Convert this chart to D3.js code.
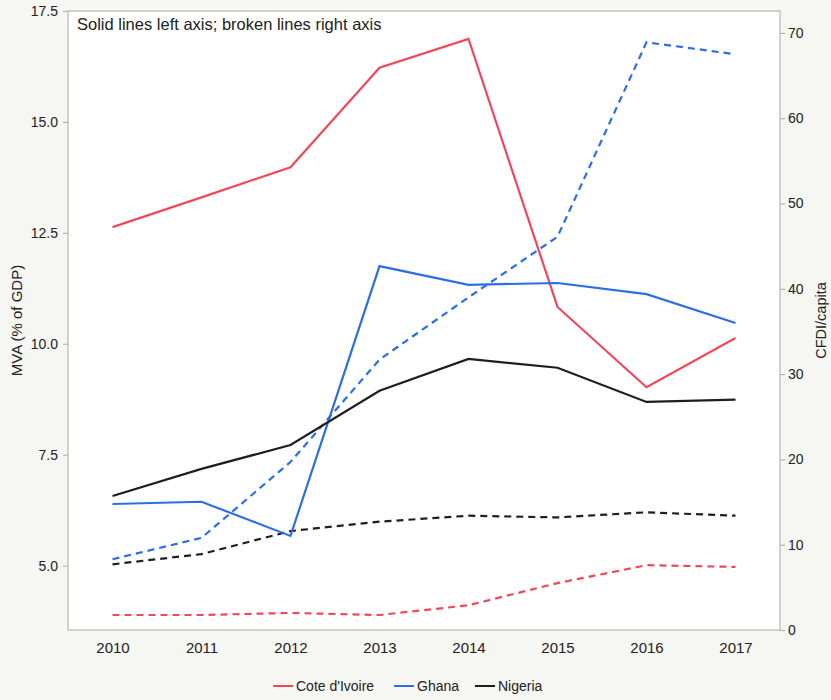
<!DOCTYPE html>
<html>
<head>
<meta charset="utf-8">
<script src="https://cdn.jsdelivr.net/npm/d3@7"></script>
<style>
  html, body { margin: 0; padding: 0; background: #f6f6f2; }
  svg { display: block; font-family: "Liberation Sans", Arial, Helvetica, sans-serif; }
</style>
</head>
<body>
<svg id="chart" width="831" height="700"></svg>
<script>
// Manufacturing value added (left axis) and FDI per capita (right axis)
const years = [2010, 2011, 2012, 2013, 2014, 2015, 2016, 2017];
const countries = ["Cote d'Ivoire", "Ghana", "Nigeria"];
const colors = ["#f0485a", "#2b6fe2", "#1e1e1e"];

// MVA (% of GDP) — solid lines, left axis
const mvaCoteDIvoire = [12.63, 13.3, 13.98, 16.22, 16.87, 10.83, 9.02, 10.13];
const mvaGhana       = [6.39, 6.44, 5.67, 11.75, 11.33, 11.37, 11.12, 10.47];
const mvaNigeria     = [6.57, 7.18, 7.72, 8.94, 9.66, 9.46, 8.69, 8.74];

// CFDI/capita — broken lines, right axis
const fdiCoteDIvoire = [1.76, 1.76, 2.0, 1.76, 2.9, 5.5, 7.6, 7.4];
const fdiGhana       = [8.3, 10.8, 19.7, 31.7, 39.0, 46.1, 68.9, 67.5];
const fdiNigeria     = [7.7, 8.9, 11.6, 12.7, 13.4, 13.2, 13.8, 13.4];

const leftTicks = [5.0, 7.5, 10.0, 12.5, 15.0, 17.5];
const rightTicks = [0, 10, 20, 30, 40, 50, 60, 70];

const mva = [mvaCoteDIvoire, mvaGhana, mvaNigeria];
const fdi = [fdiCoteDIvoire, fdiGhana, fdiNigeria];

const svg = d3.select("#chart");
const plot = { left: 68, right: 780, top: 11, bottom: 630 };

const x = d3.scaleLinear().domain([2009.5, 2017.5]).range([plot.left, plot.right]);
const yL = d3.scaleLinear().domain([3.55, 17.5]).range([plot.bottom, plot.top]);
const yR = d3.scaleLinear().domain([0, 72.57]).range([plot.bottom, plot.top]);

// plot panel
svg.append("rect")
  .attr("x", plot.left).attr("y", plot.top)
  .attr("width", plot.right - plot.left).attr("height", plot.bottom - plot.top)
  .attr("fill", "#ffffff")
  .attr("stroke", "#c2c2c2").attr("stroke-width", 1.5);

// axes
function styleAxis(size) {
  return g => {
    g.select(".domain").remove();
    g.selectAll(".tick line").attr("stroke", "#b4b4b4").attr("stroke-width", 1.2);
    g.selectAll(".tick text").attr("fill", "#222").style("font-size", size + "px")
      .style("font-family", "'Liberation Sans', Arial, sans-serif");
  };
}

svg.append("g")
  .attr("transform", `translate(${plot.left},0)`)
  .call(d3.axisLeft(yL).tickValues(leftTicks).tickFormat(d3.format(".1f")).tickSize(5).tickPadding(5))
  .call(styleAxis(14));

svg.append("g")
  .attr("transform", `translate(${plot.right},0)`)
  .call(d3.axisRight(yR).tickValues(rightTicks).tickFormat(d3.format("d")).tickSize(5).tickPadding(3))
  .call(styleAxis(14));

svg.append("g")
  .attr("transform", `translate(0,${plot.bottom})`)
  .call(d3.axisBottom(x).tickValues(years).tickFormat(d3.format("d")).tickSize(0).tickPadding(12))
  .call(styleAxis(15));

// axis titles
svg.append("text")
  .attr("transform", `translate(22,${(plot.top + plot.bottom) / 2}) rotate(-90)`)
  .attr("text-anchor", "middle")
  .attr("fill", "#222").style("font-size", "15px")
  .text("MVA (% of GDP)");

svg.append("text")
  .attr("transform", `translate(826,${(plot.top + plot.bottom) / 2}) rotate(-90)`)
  .attr("text-anchor", "middle")
  .attr("fill", "#222").style("font-size", "14.5px")
  .text("CFDI/capita");

// note inside the panel
svg.append("text")
  .attr("x", 77).attr("y", 30)
  .attr("fill", "#222").style("font-size", "16.5px")
  .text("Solid lines left axis; broken lines right axis");

// series lines
const lineL = d3.line().x((d, i) => x(years[i])).y(d => yL(d));
const lineR = d3.line().x((d, i) => x(years[i])).y(d => yR(d));

const lines = svg.append("g").attr("fill", "none").attr("stroke-width", 2.2)
  .attr("stroke-linejoin", "miter");

fdi.forEach((vals, k) => {
  lines.append("path")
    .attr("d", lineR(vals))
    .attr("stroke", colors[k])
    .attr("stroke-dasharray", "7,5");
});

mva.forEach((vals, k) => {
  lines.append("path")
    .attr("d", lineL(vals))
    .attr("stroke", colors[k]);
});

// legend
const legendX = [273, 394, 475];
const legend = svg.append("g").attr("transform", "translate(0,686)");
countries.forEach((name, k) => {
  legend.append("line")
    .attr("x1", legendX[k]).attr("x2", legendX[k] + 20)
    .attr("y1", 0).attr("y2", 0)
    .attr("stroke", colors[k]).attr("stroke-width", 2);
  legend.append("text")
    .attr("x", legendX[k] + 23).attr("y", 5)
    .attr("fill", "#222").style("font-size", "14px")
    .text(name);
});
</script>
</body>
</html>
